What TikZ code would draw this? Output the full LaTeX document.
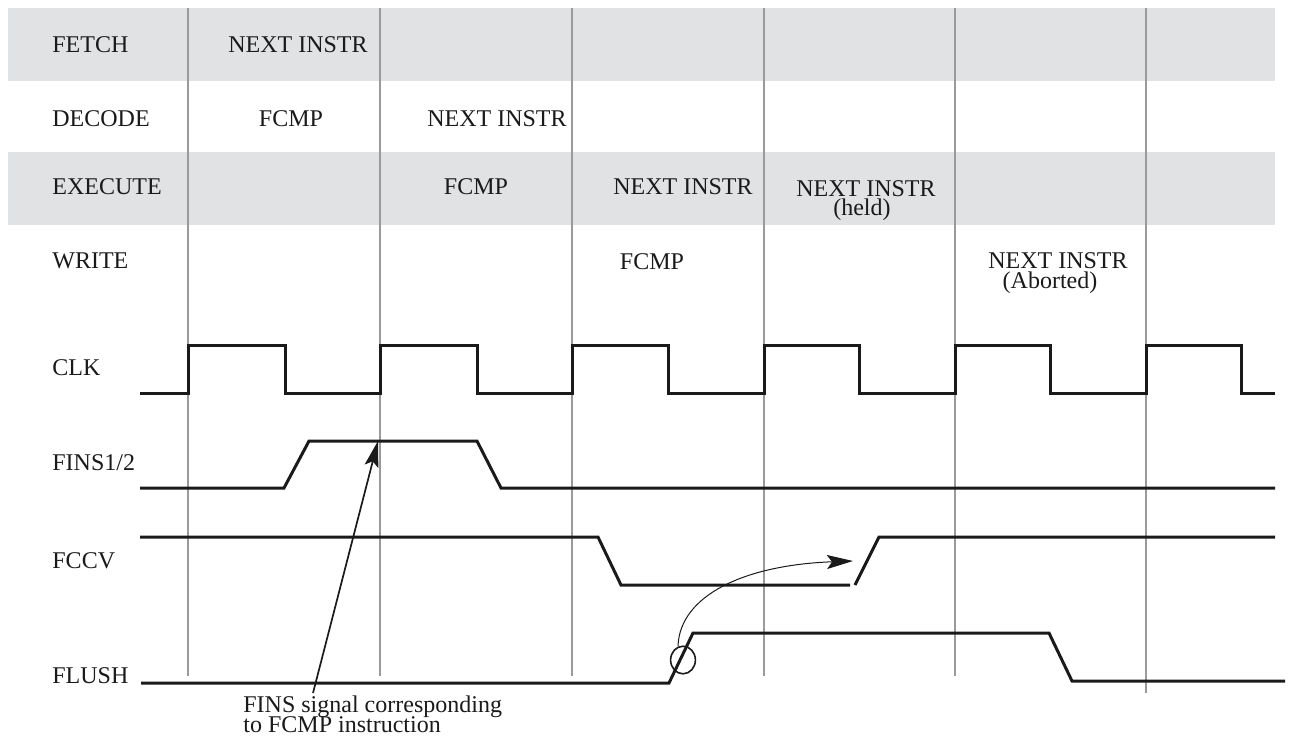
\documentclass[tikz,border=0pt]{standalone}
\usepackage{fontspec}
\setmainfont{Liberation Serif}
\usetikzlibrary{arrows.meta}
\definecolor{bandgray}{HTML}{E1E2E4}
\definecolor{gridgray}{HTML}{9A9A9A}
\definecolor{ink}{HTML}{1A1A1A}
\begin{document}
\begin{tikzpicture}[x=0.5pt,y=-0.5pt,
  sig/.style={line width=1.5pt, line join=miter, draw=ink},
  gridline/.style={draw=gridgray, line width=0.9pt},
  lbl/.style={anchor=west, inner sep=0pt, text=ink, font=\fontsize{12}{10}\selectfont},
  txt/.style={inner sep=0pt, text=ink, font=\fontsize{12}{10}\selectfont},
  tip/.style={-{Stealth[length=13pt,width=7pt,inset=2.5pt]}},
]
\useasboundingbox (0,0) rectangle (1298,736);
% bands
\fill[bandgray] (8,8) rectangle (1275,81);
\fill[bandgray] (8,152) rectangle (1275,225);
% grid
\foreach \x in {188,380,572,764,955} \draw[gridline] (\x,8) -- (\x,676);
\draw[gridline] (1146,8) -- (1146,693);
% row labels
\node[lbl] (lfetch) at (52,45) {FETCH};
\node[lbl] (ldecode) at (52,119) {DECODE};
\node[lbl] (lexec) at (52,187) {EXECUTE};
\node[lbl] (lwrite) at (52,261) {WRITE};
\node[lbl] (lclk) at (52,368) {CLK};
\node[lbl] (lfins) at (52,463) {FINS1/2};
\node[lbl] (lfccv) at (52,561) {FCCV};
\node[lbl] (lflush) at (52,676) {FLUSH};
% pipeline contents
\node[txt] (f1) at (298,45) {NEXT INSTR};
\node[txt] (d1) at (291,119) {FCMP};
\node[txt] (d2) at (497,119) {NEXT INSTR};
\node[txt] (e1) at (476,187) {FCMP};
\node[txt] (e2) at (683,187) {NEXT INSTR};
\node[txt,anchor=base] (e3) at (866,196) {NEXT INSTR};
\node[txt,anchor=base] (e3b) at (862,215) {(held)};
\node[txt,anchor=base] (w2) at (1058,268) {NEXT INSTR};
\node[txt,anchor=base] (w2b) at (1050,288) {(Aborted)};
\node[txt] (w1) at (652,262) {FCMP};
% CLK
\draw[sig] (140,393) -- (188,393) -- (188,345) -- (285,345) -- (285,393)
  -- (380,393) -- (380,345) -- (477,345) -- (477,393)
  -- (572,393) -- (572,345) -- (668,345) -- (668,393)
  -- (764,393) -- (764,345) -- (859,345) -- (859,393)
  -- (955,393) -- (955,345) -- (1050,345) -- (1050,393)
  -- (1146,393) -- (1146,345) -- (1241,345) -- (1241,393) -- (1275,393);
% FINS1/2
\draw[sig] (140,488) -- (284,488) -- (309,441) -- (477,441) -- (501,488) -- (1275,488);
% FCCV
\draw[sig] (140,537) -- (598,537) -- (621,585) -- (850,585);
\draw[sig] (855,585) -- (879,537) -- (1275,537);
% FLUSH
\draw[sig] (141,683) -- (669,683) -- (693,633) -- (1049,633) -- (1072,681) -- (1285,681);
% annotation
\node[txt,anchor=base west] (fnote) at (243,712) {FINS signal corresponding};
\node[txt,anchor=base west] (fnote2) at (243,732) {to FCMP instruction};
\coordinate (ftail) at (313,693);
\coordinate (ftip) at (378,441);
\draw[tip, line width=0.85pt, draw=ink] (ftail) -- (ftip);
% flush circle and curved arrow
\draw[line width=0.8pt, draw=ink] (683,660) ellipse[x radius=6.2pt, y radius=6.9pt];
\coordinate (cstart) at (678,646);
\coordinate (ctip) at (853,561);
\draw[tip, line width=0.5pt, draw=ink] (cstart) .. controls (680,595) and (745,565) .. (ctip);
\end{tikzpicture}
\end{document}
